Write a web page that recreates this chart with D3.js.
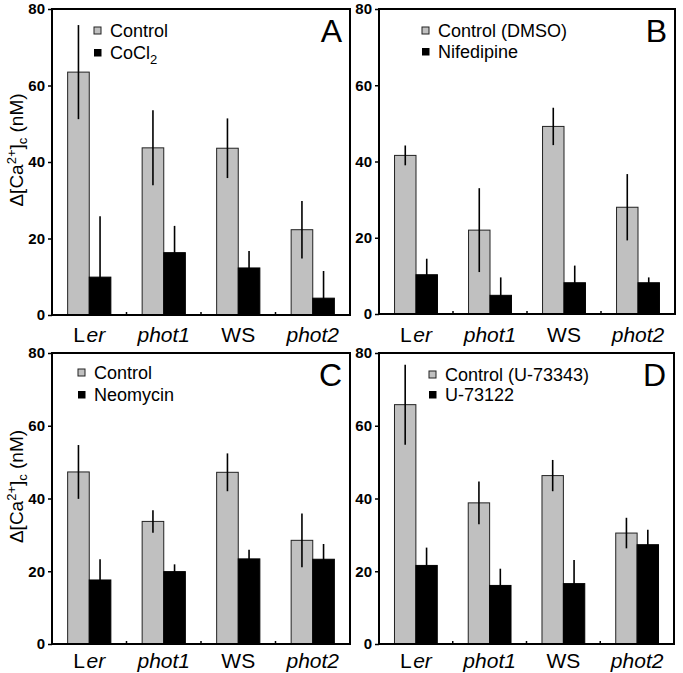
<!DOCTYPE html>
<html><head><meta charset="utf-8">
<script src="https://cdn.jsdelivr.net/npm/d3@7"></script>
<style>
html,body{margin:0;padding:0;background:#fff;}
svg{display:block;font-family:"Liberation Sans",Arial,sans-serif;}
</style></head>
<body>
<svg id="chart" width="683" height="673"></svg>
<script>
// ---- data ----
const categories = ["Ler", "phot1", "WS", "phot2"];
const yTicks = [0, 20, 40, 60, 80];
const panelLetters = ["A", "B", "C", "D"];
const controlLabels = ["Control", "Control (DMSO)", "Control", "Control (U-73343)"];
const treatLabels = ["CoCl2", "Nifedipine", "Neomycin", "U-73122"];

const controlA = [63.5, 43.7, 43.6, 22.3];
const controlErrA = [12.3, 9.8, 7.8, 7.5];
const treatA = [9.9, 16.3, 12.3, 4.4];
const treatErrA = [15.9, 7.0, 4.4, 7.1];

const controlB = [41.6, 22.0, 49.2, 28.0];
const controlErrB = [2.6, 11.0, 4.9, 8.7];
const treatB = [10.3, 4.9, 8.2, 8.2];
const treatErrB = [4.2, 4.7, 4.5, 1.4];

const controlC = [47.3, 33.7, 47.2, 28.5];
const controlErrC = [7.4, 3.1, 5.2, 7.4];
const treatC = [17.6, 19.9, 23.4, 23.3];
const treatErrC = [5.7, 2.0, 2.5, 4.2];

const controlD = [65.8, 38.8, 46.3, 30.5];
const controlErrD = [11.0, 5.9, 4.3, 4.2];
const treatD = [21.6, 16.1, 16.6, 27.3];
const treatErrD = [4.9, 4.6, 6.5, 4.1];

// ---- layout (not data) ----
const panels = [
  {letter: panelLetters[0], ctl: controlA, ctlErr: controlErrA, trt: treatA, trtErr: treatErrA, ctlLab: controlLabels[0], trtLab: treatLabels[0],
   left: 52, right: 350, top: 9, bottom: 315, legX: 42, legY: [28, 50], labDy: 27, ylabel: true},
  {letter: panelLetters[1], ctl: controlB, ctlErr: controlErrB, trt: treatB, trtErr: treatErrB, ctlLab: controlLabels[1], trtLab: treatLabels[1],
   left: 379, right: 675, top: 9, bottom: 314, legX: 43, legY: [28, 49], labDy: 28, ylabel: false},
  {letter: panelLetters[2], ctl: controlC, ctlErr: controlErrC, trt: treatC, trtErr: treatErrC, ctlLab: controlLabels[2], trtLab: treatLabels[2],
   left: 52, right: 350, top: 353, bottom: 644, legX: 26, legY: [26, 48], labDy: 24, ylabel: true},
  {letter: panelLetters[3], ctl: controlD, ctlErr: controlErrD, trt: treatD, trtErr: treatErrD, ctlLab: controlLabels[3], trtLab: treatLabels[3],
   left: 379, right: 674, top: 353, bottom: 644, legX: 50, legY: [28, 48], labDy: 24, ylabel: false}
];

const svg = d3.select("#chart");
svg.append("rect").attr("width", 683).attr("height", 673).attr("fill", "#fff");

const GRAY = "#c0c0c0";

function addLabelText(sel, label) {
  if (label === "CoCl2") {
    sel.append("tspan").text("CoCl");
    sel.append("tspan").attr("font-size", "13px").attr("dy", 5).text("2");
  } else {
    sel.text(label);
  }
}

panels.forEach(p => {
  const g = svg.append("g");
  const x = d3.scaleBand().domain(categories).range([p.left, p.right]).paddingInner(0).paddingOuter(0);
  const y = d3.scaleLinear().domain([0, 80]).range([p.bottom, p.top]);
  const bw = x.step() * 0.29;

  const data = categories.map((c, i) => ({c, ctl: p.ctl[i], ce: p.ctlErr[i], trt: p.trt[i], te: p.trtErr[i]}));
  const grp = g.selectAll("g.grp").data(data).enter().append("g");
  const cx = d => x(d.c) + x.bandwidth() / 2;

  grp.append("rect")
    .attr("x", d => cx(d) - bw).attr("width", bw)
    .attr("y", d => y(d.ctl)).attr("height", d => y(0) - y(d.ctl))
    .attr("fill", GRAY).attr("stroke", "#222").attr("stroke-width", 1);
  grp.append("rect")
    .attr("x", d => cx(d)).attr("width", bw)
    .attr("y", d => y(d.trt)).attr("height", d => y(0) - y(d.trt))
    .attr("fill", "#000").attr("stroke", "#000").attr("stroke-width", 1);

  grp.append("line")
    .attr("x1", d => cx(d) - bw / 2).attr("x2", d => cx(d) - bw / 2)
    .attr("y1", d => y(d.ctl + d.ce)).attr("y2", d => y(Math.max(0, d.ctl - d.ce)))
    .attr("stroke", "#000").attr("stroke-width", 1.6);
  grp.append("line")
    .attr("x1", d => cx(d) + bw / 2).attr("x2", d => cx(d) + bw / 2)
    .attr("y1", d => y(d.trt + d.te)).attr("y2", d => y(Math.max(0, d.trt - d.te)))
    .attr("stroke", "#000").attr("stroke-width", 1.6);

  g.append("rect").attr("x", p.left).attr("y", p.top)
    .attr("width", p.right - p.left).attr("height", p.bottom - p.top)
    .attr("fill", "none").attr("stroke", "#000").attr("stroke-width", 2);

  const yAxis = d3.axisLeft(y).tickValues(yTicks).tickSize(4).tickPadding(3).tickFormat(d3.format("d"));
  const ya = g.append("g").attr("transform", `translate(${p.left},0)`).call(yAxis);
  ya.select(".domain").remove();
  ya.selectAll(".tick line").attr("stroke", "#000").attr("stroke-width", 1.5);
  ya.selectAll(".tick text").attr("font-size", "15px").attr("font-weight", "bold")
    .attr("font-family", "Liberation Sans, Arial, sans-serif").attr("fill", "#000");

  categories.slice(1).forEach(c => {
    g.append("line").attr("x1", x(c)).attr("x2", x(c))
      .attr("y1", p.bottom).attr("y2", p.bottom - 3)
      .attr("stroke", "#000").attr("stroke-width", 1.5);
  });

  categories.forEach(c => {
    const t = g.append("text").attr("x", x(c) + x.bandwidth() / 2).attr("y", p.bottom + p.labDy)
      .attr("text-anchor", "middle").attr("font-size", "21px").attr("fill", "#000");
    if (c === "Ler") {
      t.append("tspan").text("L");
      t.append("tspan").attr("dx", 1.5).attr("font-style", "italic").text("er");
    } else if (c === "WS") {
      t.text(c);
    } else {
      t.attr("font-style", "italic").text(c);
    }
  });

  const lx = p.left + p.legX;
  const ly1 = p.top + p.legY[0], ly2 = p.top + p.legY[1];
  g.append("rect").attr("x", lx).attr("y", ly1 - 10).attr("width", 7).attr("height", 7)
    .attr("fill", GRAY).attr("stroke", "#222").attr("stroke-width", 1);
  g.append("rect").attr("x", lx).attr("y", ly2 - 10).attr("width", 7.5).attr("height", 7.5)
    .attr("fill", "#000");
  g.append("text").attr("x", lx + 16).attr("y", ly1).attr("font-size", "18px").attr("fill", "#000").text(p.ctlLab);
  const t2 = g.append("text").attr("x", lx + 16).attr("y", ly2).attr("font-size", "18px").attr("fill", "#000");
  addLabelText(t2, p.trtLab);

  g.append("text").attr("x", p.right - 8).attr("y", p.top + 33).attr("text-anchor", "end")
    .attr("font-size", "32px").attr("fill", "#000").text(p.letter);

  if (p.ylabel) {
    const cy = (p.top + p.bottom) / 2 - 12;
    const yl = g.append("text").attr("transform", `translate(23,${cy}) rotate(-90)`)
      .attr("text-anchor", "middle").attr("font-size", "19px").attr("fill", "#000");
    yl.append("tspan").text("\u0394[Ca");
    yl.append("tspan").attr("font-size", "13px").attr("dy", -7).text("2+");
    yl.append("tspan").attr("dy", 7).text("]");
    yl.append("tspan").attr("font-size", "13px").attr("dy", 4).text("c");
    yl.append("tspan").attr("dy", -4).text(" (nM)");
  }
});
</script>
</body></html>
